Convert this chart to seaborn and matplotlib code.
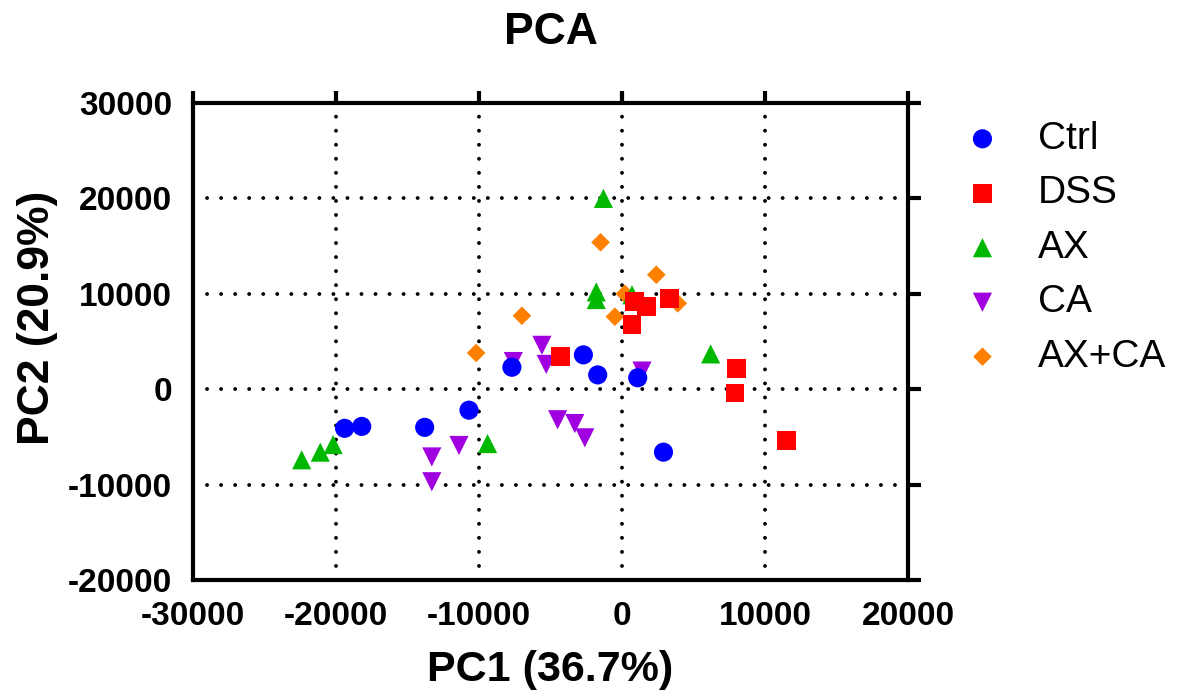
import matplotlib
matplotlib.use("Agg")
import matplotlib.pyplot as plt
import seaborn as sns
import pandas as pd

# ---- data ----
groups = ["Ctrl", "DSS", "AX", "CA", "AX+CA"]

ctrl_x = [-19400, -18200, -13800, -10700, -7700, -2700, -1700, 1100, 2900]
ctrl_y = [-4100, -3900, -4000, -2200, 2300, 3600, 1500, 1200, -6600]

dss_x = [-4300, 700, 900, 1700, 3300, 8000, 7900, 11500]
dss_y = [3400, 6800, 9200, 8700, 9500, 2200, -400, -5400]

ax_x = [-22400, -21100, -20200, -9400, -1300, -1800, -1800, 700, 6200]
ax_y = [-7400, -6600, -5800, -5700, 20000, 10200, 9400, 9900, 3700]

ca_x = [-13300, -13300, -11400, -7600, -5600, -5300, -4500, -3300, -2600, 1400]
ca_y = [-7100, -9700, -5900, 2900, 4600, 2600, -3200, -3600, -5100, 1900]

axca_x = [-1500, 2400, 200, 3900, -500, -7000, -10200]
axca_y = [15400, 12000, 10000, 9000, 7600, 7700, 3800]

x_ticks = [-30000, -20000, -10000, 0, 10000, 20000]
y_ticks = [-20000, -10000, 0, 10000, 20000, 30000]

# ---- styling ----
colors = {"Ctrl": "#0000FF", "DSS": "#FF0000", "AX": "#00B800",
          "CA": "#A000E0", "AX+CA": "#FF8000"}
markers = {"Ctrl": "o", "DSS": "s", "AX": "^", "CA": "v", "AX+CA": "D"}
msizes = {"Ctrl": 190, "DSS": 185, "AX": 190, "CA": 190, "AX+CA": 90}

frames = []
for g, xs, ys in [("Ctrl", ctrl_x, ctrl_y), ("DSS", dss_x, dss_y),
                  ("AX", ax_x, ax_y), ("CA", ca_x, ca_y),
                  ("AX+CA", axca_x, axca_y)]:
    frames.append(pd.DataFrame({"PC1": xs, "PC2": ys, "Group": g}))
df = pd.concat(frames, ignore_index=True)

sns.set_style("white")
plt.rcParams["font.family"] = ["Liberation Sans", "DejaVu Sans"]
plt.rcParams["text.color"] = "black"
plt.rcParams["axes.labelcolor"] = "black"
plt.rcParams["xtick.color"] = "black"
plt.rcParams["ytick.color"] = "black"

W, H = 1178, 697
fig = plt.figure(figsize=(W / 100, H / 100), dpi=100)
L, R, T, B = 193, 908, 103, 580
ax = fig.add_axes([L / W, 1 - B / H, (R - L) / W, (B - T) / H])

# dotted grid
for xv in x_ticks[1:-1]:
    ax.axvline(xv, color="black", lw=2.8, linestyle=(0, (0.01, 3.6)),
               dash_capstyle="round", zorder=1)
for yv in y_ticks[1:-1]:
    ax.axhline(yv, color="black", lw=2.8, linestyle=(0, (0.01, 3.6)),
               dash_capstyle="round", zorder=1)

# draw in reverse order so Ctrl ends up on top
handles = {}
for i, g in enumerate(reversed(groups)):
    sub = df[df["Group"] == g]
    sns.scatterplot(data=sub, x="PC1", y="PC2", ax=ax, color=colors[g],
                    marker=markers[g], s=msizes[g], linewidth=0,
                    edgecolor="none", label=g, zorder=3 + i, legend=False)
    handles[g] = ax.collections[-1]

ax.set_xlim(-30000, 20000)
ax.set_ylim(-20000, 30000)
ax.set_xticks(x_ticks)
ax.set_yticks(y_ticks)
ax.set_xticklabels([str(v) for v in x_ticks])
ax.set_yticklabels([str(v) for v in y_ticks])

for sp in ax.spines.values():
    sp.set_visible(True)
    sp.set_linewidth(3)
    sp.set_color("black")
    sp.set_zorder(10)

ax.tick_params(axis="both", which="major", direction="out", length=9,
               width=3, color="black", labelcolor="black", top=True,
               right=True, labelsize=24, pad=6)
for lab in ax.get_xticklabels() + ax.get_yticklabels():
    lab.set_fontweight("bold")

ax.set_xlabel("PC1 (36.7%)", fontsize=31, fontweight="bold", color="black")
ax.set_ylabel("PC2 (20.9%)", fontsize=32, fontweight="bold", color="black")
ax.xaxis.label.set_va("center")
ax.yaxis.label.set_va("center")
ax.xaxis.set_label_coords(0.5, (H - 670 - (H - B)) / (B - T))
ax.yaxis.set_label_coords((37 - L) / (R - L), (H - 318 - (H - B)) / (B - T))

fig.text((L + R) / 2 / W, 1 - 33 / H, "PCA", ha="center", va="center",
         fontsize=32, fontweight="bold", color="black")

leg = fig.legend([handles[g] for g in groups], groups, loc="upper left",
                 bbox_to_anchor=(963 / W, 1 - 121 / H), frameon=False,
                 fontsize=28, handlelength=1.0, handletextpad=0.925,
                 labelspacing=0.475, borderpad=0, borderaxespad=0,
                 scatterpoints=1)
for t in leg.get_texts():
    t.set_color("black")

fig.savefig("out.png", dpi=100, facecolor="white")
